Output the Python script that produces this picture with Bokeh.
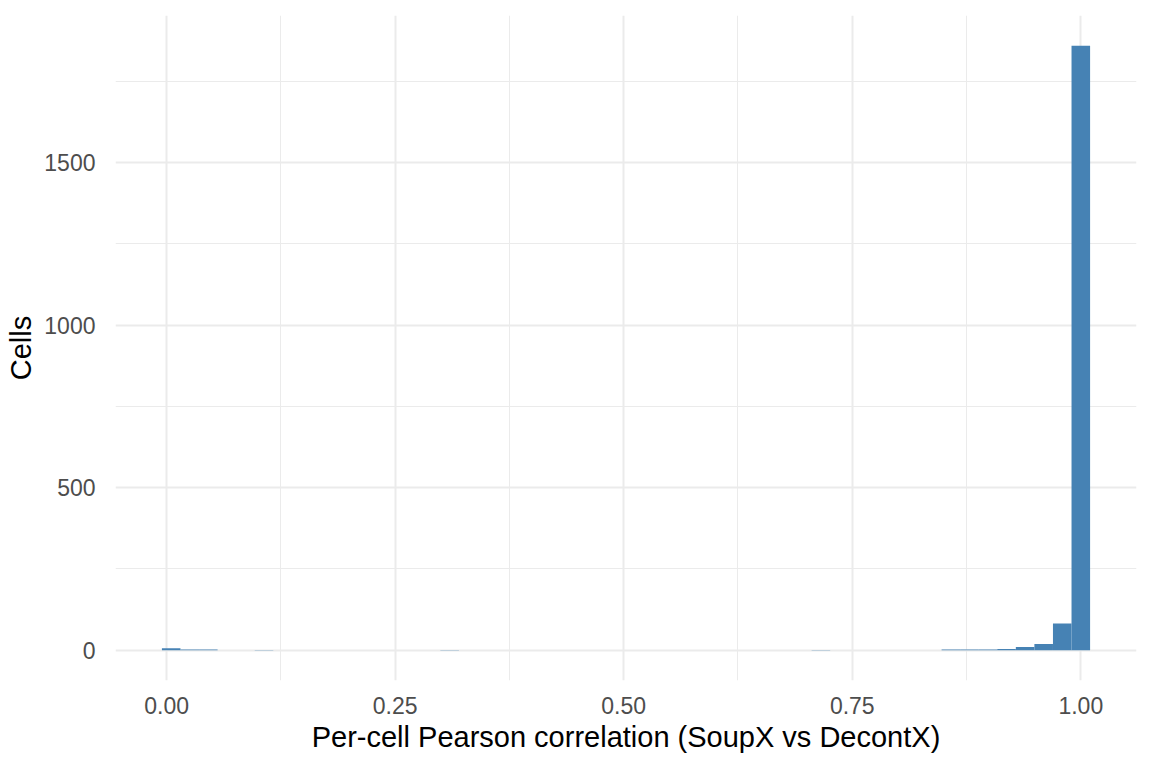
import numpy as np
from bokeh.plotting import figure
from bokeh.models import Range1d, FixedTicker, ColumnDataSource
from bokeh.embed import file_html
from bokeh.resources import INLINE

# ===== DATA ==========================================
# histogram of per-cell correlations, 50 bins between data min and max
x_min = 0.005
x_max = 1.0
n_bins = 50
counts = [6, 2, 2, 0, 0, 1, 0, 0, 0, 0,
          0, 0, 0, 0, 0, 1, 0, 0, 0, 0,
          0, 0, 0, 0, 0, 0, 0, 0, 0, 0,
          0, 0, 0, 0, 0, 1, 0, 0, 0, 0,
          0, 0, 2, 2, 2, 4, 10, 19, 82, 1859]

x_ticks = [0.0, 0.25, 0.5, 0.75, 1.0]
x_minor = [0.125, 0.375, 0.625, 0.875]
y_ticks = [0, 500, 1000, 1500]
y_minor = [250, 750, 1250, 1750]

# ===== BINS ==========================================
bw = (x_max - x_min) / (n_bins - 1)
edges = x_min - bw / 2 + bw * np.arange(n_bins + 1)
src = ColumnDataSource(dict(left=edges[:-1], right=edges[1:],
                            top=counts, bottom=[0] * n_bins))

# ===== PLOT ==========================================
p = figure(width=1142, height=760,
           output_backend="svg", toolbar_location=None,
           x_axis_label="Per-cell Pearson correlation (SoupX vs DecontX)",
           y_axis_label="Cells",
           min_border_left=115, min_border_right=6,
           min_border_top=15, min_border_bottom=80)

span_x = edges[-1] - edges[0]
p.x_range = Range1d(edges[0] - 0.05 * span_x, edges[-1] + 0.05 * span_x)
p.y_range = Range1d(-0.05 * max(counts), 1.05 * max(counts))

p.quad(left="left", right="right", top="top", bottom="bottom", source=src,
       fill_color="#4682B4", line_color=None)

p.outline_line_color = None
p.background_fill_color = "white"
p.border_fill_color = "white"

p.xaxis.ticker = FixedTicker(ticks=x_ticks, minor_ticks=x_minor)
p.yaxis.ticker = FixedTicker(ticks=y_ticks, minor_ticks=y_minor)
p.xaxis.major_label_overrides = {t: "%.2f" % t for t in x_ticks}

for ax in [p.xaxis, p.yaxis]:
    ax.axis_line_color = None
    ax.major_tick_line_color = None
    ax.minor_tick_line_color = None
    ax.major_label_text_font = "Liberation Sans"
    ax.major_label_text_font_size = "23px"
    ax.major_label_text_color = "#4D4D4D"
    ax.axis_label_text_font = "Liberation Sans"
    ax.axis_label_text_font_size = "29px"
    ax.axis_label_text_font_style = "normal"
    ax.axis_label_text_color = "black"

p.xaxis.major_label_standoff = 10
p.yaxis.major_label_standoff = 14
p.xaxis.axis_label_standoff = 4
p.yaxis.axis_label_standoff = 4

for g in [p.xgrid, p.ygrid]:
    g.grid_line_color = "#EBEBEB"
    g.grid_line_width = 2
    g.minor_grid_line_color = "#EBEBEB"
    g.minor_grid_line_width = 1

open("out.html", "w").write(file_html(p, INLINE))
